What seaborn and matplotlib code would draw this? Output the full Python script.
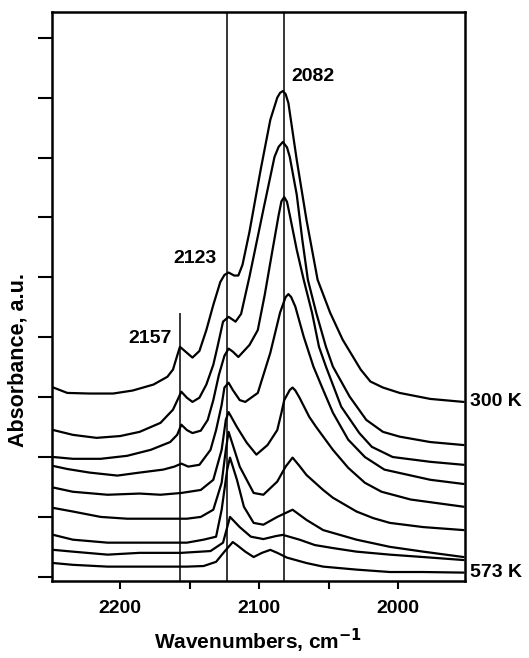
import matplotlib
matplotlib.use("Agg")
import matplotlib.pyplot as plt
import matplotlib.transforms as mtransforms
import numpy as np
import pandas as pd
import seaborn as sns

# ---- data (wavenumber, absorbance in tick units) ----
wn_0 = [2248, 2238, 2222, 2205, 2191, 2176, 2166, 2162, 2159, 2157, 2153, 2148, 2143, 2138, 2133, 2128, 2125,
        2122, 2118, 2115, 2112, 2107, 2099, 2092, 2087, 2085, 2083, 2081, 2079, 2073, 2066, 2058, 2049, 2040,
        2027, 2020, 2011, 1999, 1977, 1953]
ab_0 = [3.16, 3.07, 3.06, 3.06, 3.11, 3.21, 3.34, 3.46, 3.69, 3.84, 3.76, 3.66, 3.77, 4.12, 4.54, 4.92, 5.04,
        5.08, 5.03, 5.03, 5.21, 5.76, 6.79, 7.63, 8.00, 8.08, 8.11, 8.06, 7.91, 6.96, 5.96, 4.96, 4.41, 3.96,
        3.46, 3.26, 3.16, 3.07, 2.97, 2.92]

wn_1 = [2248, 2234, 2217, 2200, 2186, 2171, 2162, 2159, 2156, 2152, 2148, 2143, 2138, 2133, 2130, 2126, 2122,
        2117, 2113, 2107, 2097, 2089, 2086, 2083, 2080, 2078, 2073, 2069, 2065, 2059, 2052, 2047, 2035, 2023,
        2011, 1999, 1977, 1953]
ab_1 = [2.45, 2.37, 2.32, 2.35, 2.42, 2.57, 2.79, 2.94, 3.09, 2.99, 2.92, 2.99, 3.21, 3.54, 3.84, 4.26, 4.34,
        4.26, 4.39, 5.01, 6.13, 7.01, 7.18, 7.26, 7.17, 7.01, 6.38, 5.63, 4.96, 4.41, 3.84, 3.51, 3.01, 2.62,
        2.42, 2.34, 2.25, 2.20]

wn_2 = [2248, 2234, 2214, 2195, 2178, 2164, 2159, 2156, 2152, 2148, 2142, 2137, 2133, 2129, 2125, 2122, 2119,
        2115, 2107, 2101, 2096, 2091, 2086, 2084, 2082, 2080, 2078, 2073, 2068, 2062, 2057, 2052, 2041, 2028,
        2019, 2004, 1977, 1953]
ab_2 = [2.00, 1.97, 1.97, 2.02, 2.12, 2.25, 2.37, 2.54, 2.45, 2.40, 2.44, 2.62, 2.95, 3.37, 3.69, 3.81, 3.76,
        3.67, 3.87, 4.12, 4.71, 5.38, 6.04, 6.27, 6.34, 6.26, 6.04, 5.46, 4.96, 4.41, 3.84, 3.51, 2.84, 2.40,
        2.17, 2.00, 1.92, 1.87]

wn_3 = [2248, 2238, 2222, 2202, 2186, 2169, 2161, 2156, 2151, 2143, 2135, 2131, 2127, 2125, 2122, 2119, 2114,
        2110, 2101, 2092, 2085, 2081, 2079, 2077, 2074, 2068, 2061, 2054, 2047, 2036, 2024, 2010, 1977, 1953]
ab_3 = [1.85, 1.80, 1.74, 1.69, 1.74, 1.79, 1.84, 1.89, 1.84, 1.87, 2.12, 2.45, 2.87, 3.16, 3.24, 3.12, 2.95,
        2.92, 3.07, 3.74, 4.41, 4.67, 4.72, 4.67, 4.51, 4.01, 3.51, 3.12, 2.74, 2.29, 2.00, 1.79, 1.62, 1.55]

wn_4 = [2248, 2234, 2209, 2186, 2171, 2156, 2142, 2133, 2127, 2124, 2122, 2116, 2109, 2102, 2094, 2087, 2084,
        2082, 2078, 2076, 2074, 2071, 2064, 2059, 2047, 2036, 2024, 2012, 1991, 1953]
ab_4 = [1.49, 1.42, 1.37, 1.39, 1.37, 1.40, 1.45, 1.62, 2.12, 2.62, 2.75, 2.50, 2.24, 2.04, 2.20, 2.45, 2.74,
        2.95, 3.12, 3.16, 3.11, 2.99, 2.67, 2.50, 2.12, 1.82, 1.57, 1.42, 1.29, 1.17]

wn_5 = [2248, 2234, 2214, 2195, 2176, 2152, 2142, 2133, 2127, 2124, 2122, 2114, 2104, 2097, 2087, 2081, 2076,
        2071, 2066, 2054, 2047, 2030, 2018, 2006, 1982, 1953]
ab_5 = [1.15, 1.09, 1.00, 0.97, 0.97, 0.97, 1.00, 1.12, 1.57, 2.12, 2.42, 1.84, 1.40, 1.37, 1.59, 1.84, 1.99,
        1.85, 1.70, 1.45, 1.32, 1.09, 0.98, 0.90, 0.83, 0.78]

wn_6 = [2248, 2234, 2209, 2186, 2152, 2140, 2131, 2127, 2123, 2121, 2116, 2111, 2104, 2097, 2087, 2076, 2066,
        2054, 2030, 2006, 1982, 1953]
ab_6 = [0.70, 0.62, 0.57, 0.57, 0.57, 0.62, 0.67, 1.12, 1.79, 1.99, 1.62, 1.17, 0.90, 0.87, 1.00, 1.12, 0.95,
        0.78, 0.62, 0.50, 0.42, 0.33]

wn_7 = [2248, 2234, 2209, 2186, 2156, 2135, 2126, 2121, 2114, 2106, 2097, 2088, 2083, 2071, 2060, 2047, 2030,
        2006, 1982, 1953]
ab_7 = [0.45, 0.42, 0.37, 0.40, 0.40, 0.43, 0.57, 1.00, 0.83, 0.67, 0.63, 0.68, 0.70, 0.62, 0.53, 0.48, 0.42,
        0.37, 0.33, 0.28]

wn_8 = [2248, 2234, 2209, 2186, 2152, 2140, 2131, 2125, 2119, 2116, 2110, 2104, 2098, 2092, 2087, 2080, 2066,
        2054, 2030, 2006, 1982, 1953]
ab_8 = [0.23, 0.20, 0.17, 0.17, 0.17, 0.18, 0.25, 0.42, 0.58, 0.53, 0.42, 0.33, 0.40, 0.45, 0.40, 0.32, 0.23,
        0.17, 0.12, 0.08, 0.08, 0.07]

peak_positions = [2157, 2123, 2082]
peak_labels = ["2157", "2123", "2082"]
peak_line_top = [4.41, None, None]          # 2157 line stops under its label
end_labels = ["300 K", "573 K"]
x_ticks = [2200, 2150, 2100, 2050, 2000]
x_tick_labels = ["2200", "", "2100", "", "2000"]
y_ticks = list(range(10))

# ---- build long table ----
spectra = [(wn_0, ab_0), (wn_1, ab_1), (wn_2, ab_2), (wn_3, ab_3), (wn_4, ab_4),
           (wn_5, ab_5), (wn_6, ab_6), (wn_7, ab_7), (wn_8, ab_8)]
frames = []
for i, (w, a) in enumerate(spectra):
    frames.append(pd.DataFrame({"wavenumber": w, "absorbance": a, "spectrum": i}))
df = pd.concat(frames, ignore_index=True)

sns.set_theme(style="ticks")
plt.rcParams["font.family"] = ["Liberation Sans", "DejaVu Sans"]
plt.rcParams["font.weight"] = "bold"
plt.rcParams["mathtext.default"] = "bf"
plt.rcParams["text.color"] = "black"
plt.rcParams["axes.labelcolor"] = "black"
plt.rcParams["xtick.color"] = "black"
plt.rcParams["ytick.color"] = "black"

W, H = 529, 658
fig = plt.figure(figsize=(W / 100, H / 100), dpi=100)
ax = fig.add_axes([52 / W, 1 - 581 / H, (465 - 52) / W, (581 - 12) / H])

sns.lineplot(data=df, x="wavenumber", y="absorbance", units="spectrum", estimator=None,
             sort=False, color="black", linewidth=1.6, ax=ax, legend=False)

ax.set_xlim(2249, 1952)
ax.set_ylim(-0.07, 9.43)

ymin, ymax = ax.get_ylim()
for pos, top in zip(peak_positions, peak_line_top):
    ax.vlines(pos, ymin, ymax if top is None else top, color="black", linewidth=1.1, zorder=1)

ax.text(2162.8, 3.98, peak_labels[0], ha="right", va="center", fontsize=14, fontweight="bold", color="black")
ax.text(2130.3, 5.32, peak_labels[1], ha="right", va="center", fontsize=14, fontweight="bold", color="black")
ax.text(2076.6, 8.36, peak_labels[2], ha="left", va="center", fontsize=14, fontweight="bold", color="black")

blend = mtransforms.blended_transform_factory(ax.transAxes, ax.transData)
ax.text(1.012, ab_0[-1], end_labels[0], transform=blend, ha="left", va="center",
        fontsize=14, fontweight="bold", color="black", clip_on=False)
ax.text(1.012, ab_8[-1], end_labels[1], transform=blend, ha="left", va="center",
        fontsize=14, fontweight="bold", color="black", clip_on=False)

ax.set_xticks(x_ticks)
ax.set_xticklabels(x_tick_labels, fontsize=14, fontweight="bold", color="black")
ax.set_yticks(y_ticks)
ax.set_yticklabels([])
ax.tick_params(axis="x", direction="out", length=6, width=1.5, pad=8, colors="black")
ax.tick_params(axis="y", direction="out", length=10, width=1.5, colors="black")

for s in ax.spines.values():
    s.set_linewidth(1.8)
    s.set_color("black")
    s.set_visible(True)

ax.set_xlabel(r"Wavenumbers, cm$^{-1}$", fontsize=15, fontweight="bold", labelpad=7, color="black")
ax.set_ylabel("")
fig.text(18 / W, 1 - 360 / H, "Absorbance, a.u.", rotation=90, ha="center", va="center",
         fontsize=15.5, fontweight="bold", color="black")

fig.savefig("out.png", dpi=100)
